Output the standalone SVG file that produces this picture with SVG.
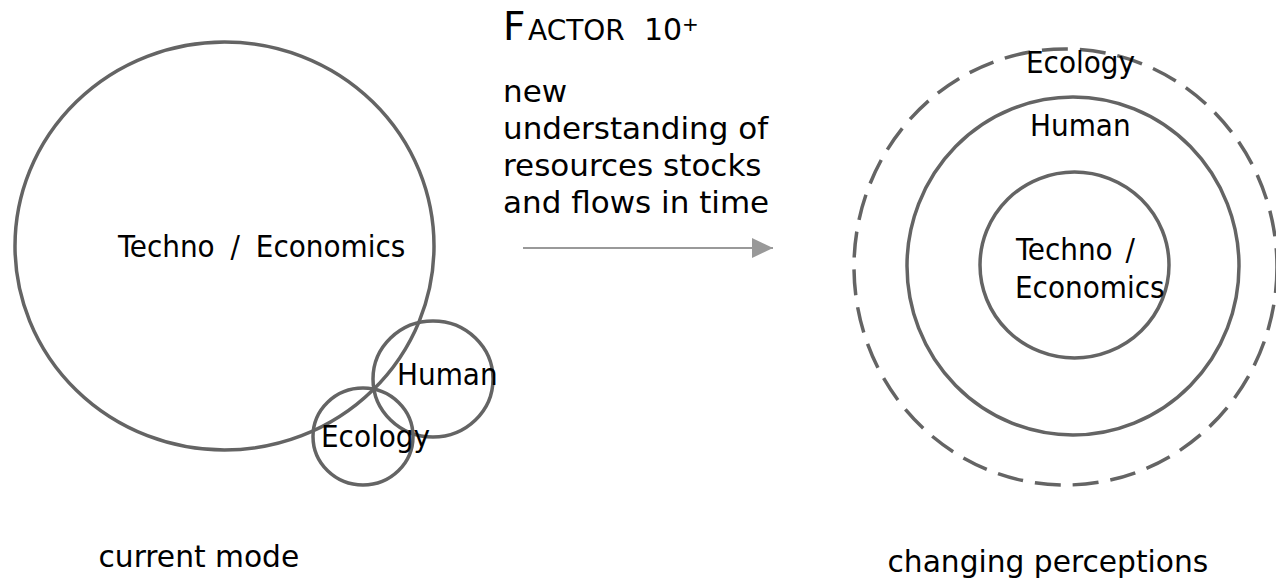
<svg xmlns="http://www.w3.org/2000/svg" width="1276" height="583" viewBox="0 0 1276 583">
  <style>
    .ring { fill: none; stroke: #646464; stroke-width: 3.5; }
    .dash { stroke-dasharray: 26 12; }
    .lbl { font-family: "DejaVu Sans Condensed", "DejaVu Sans", sans-serif; font-size: 31px; fill: #000; }
    .body { font-family: "DejaVu Sans", sans-serif; font-size: 31px; fill: #000; }
    .cap { font-family: "DejaVu Sans", sans-serif; font-size: 29.7px; fill: #000; }
    .title { font-family: "DejaVu Sans", sans-serif; fill: #000; }
    .flow { stroke: #999; stroke-width: 2; fill: none; }
  </style>
  <defs>
    <marker id="head" markerWidth="21" markerHeight="20" refX="21" refY="10" orient="auto" markerUnits="userSpaceOnUse">
      <path d="M0,0 L21,10 L0,20 Z" fill="#999"/>
    </marker>
  </defs>

  <rect width="1276" height="583" fill="#fff"/>

  <!-- current mode: separate spheres -->
  <g id="cur-techno">
    <ellipse class="ring" cx="224.5" cy="246" rx="209.5" ry="204"/>
    <text class="lbl" x="118" y="257" font-size="32.5" word-spacing="7">Techno / Economics</text>
  </g>
  <g id="cur-human">
    <ellipse class="ring" cx="433" cy="379" rx="60" ry="58"/>
    <text class="lbl" x="397" y="385">Human</text>
  </g>
  <g id="cur-ecology">
    <ellipse class="ring" cx="363" cy="436.5" rx="50" ry="48.5"/>
    <text class="lbl" x="321" y="447">Ecology</text>
  </g>
  <g id="cur-caption">
    <text class="cap" x="98.5" y="567">current mode</text>
  </g>

  <!-- transition -->
  <g id="factor">
    <text class="title" y="40"><tspan x="503" font-size="39">F</tspan><tspan x="528" font-size="28">ACTOR</tspan><tspan x="644" font-size="30">10</tspan><tspan x="682" y="31" font-size="20">+</tspan></text>
    <text class="body">
      <tspan x="503" y="101.5">new</tspan>
      <tspan x="503" y="138.5">understanding of</tspan>
      <tspan x="503" y="175.5">resources stocks</tspan>
      <tspan x="503" y="212.5">and flows in time</tspan>
    </text>
  </g>

  <g id="connectors">
    <line class="flow" x1="523" y1="248" x2="773" y2="248" marker-end="url(#head)"/>
  </g>

  <!-- changing perceptions: nested spheres -->
  <g id="new-ecology">
    <ellipse class="ring dash" cx="1065.5" cy="267" rx="211.5" ry="218"/>
    <text class="lbl" x="1026" y="73">Ecology</text>
  </g>
  <g id="new-human">
    <ellipse class="ring" cx="1073" cy="266" rx="166" ry="169"/>
    <text class="lbl" x="1030" y="136">Human</text>
  </g>
  <g id="new-techno">
    <ellipse class="ring" cx="1074.5" cy="265" rx="94.5" ry="93"/>
    <text class="lbl"><tspan x="1016" y="260" word-spacing="4">Techno /</tspan><tspan x="1015" y="298">Economics</tspan></text>
  </g>
  <g id="new-caption">
    <text class="cap" x="887.5" y="572">changing perceptions</text>
  </g>
</svg>
